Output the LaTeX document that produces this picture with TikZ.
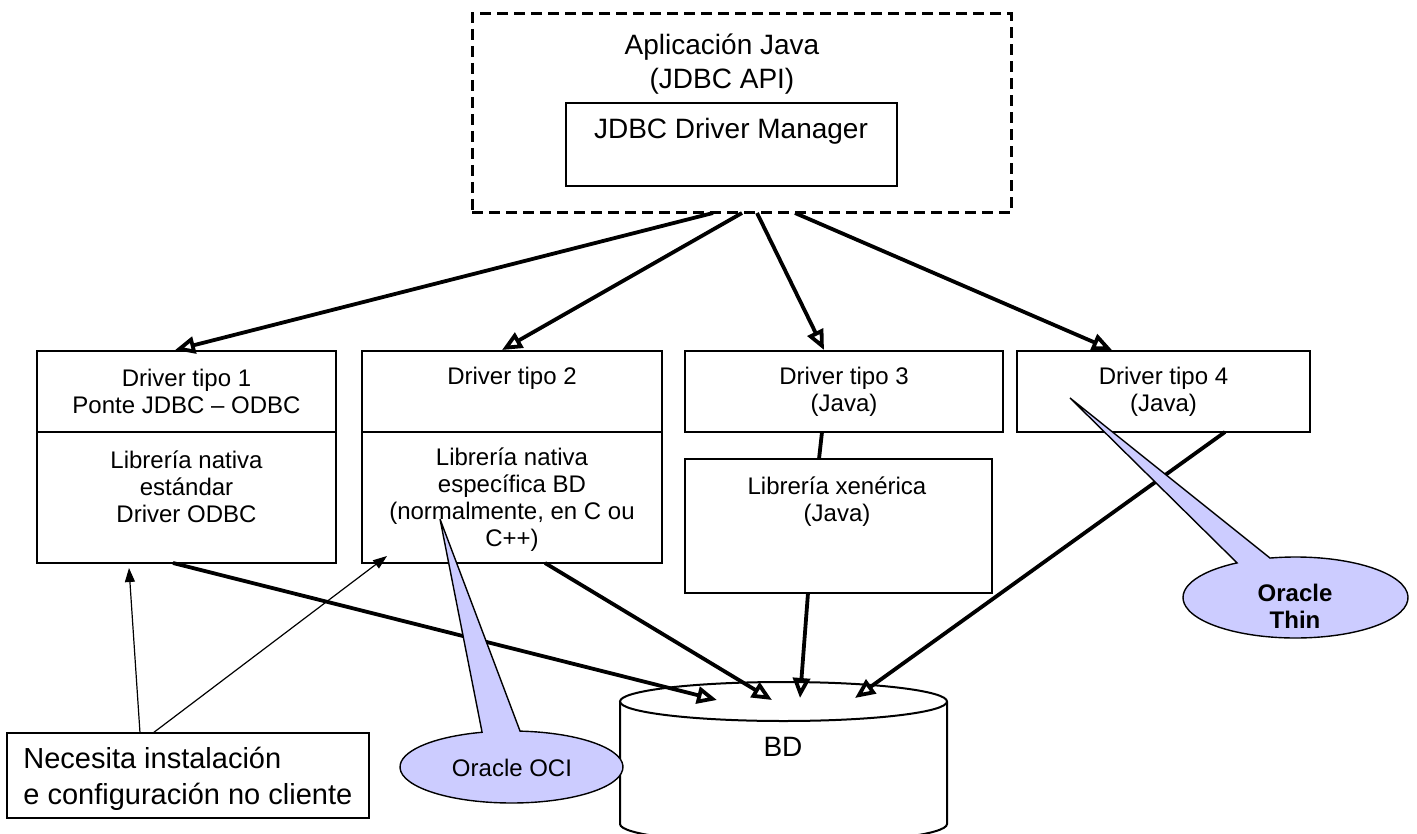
\documentclass[tikz,border=0pt]{standalone}
\usepackage{fontspec}
\setmainfont{Liberation Sans}
\usetikzlibrary{arrows.meta,fit}
\definecolor{calloutblue}{HTML}{CCCCFF}
\begin{document}
\begin{tikzpicture}[x=0.5pt,y=-0.5pt,
  box/.style={draw,line width=1pt,inner sep=0pt,outer sep=0pt},
  dashbox/.style={draw,line width=1.5pt,dash pattern=on 5.5pt off 3pt,inner sep=0pt,outer sep=0pt},
  txt/.style={align=center,inner sep=0pt,font=\fontsize{12}{13.5}\selectfont},
  bigtxt/.style={align=center,inner sep=0pt,font=\fontsize{14}{17}\selectfont},
  notetxt/.style={align=left,inner sep=0pt,font=\fontsize{14.5}{18}\selectfont},
  thickarrow/.style={line width=1.9pt,-{Triangle[open,length=10pt,width=8.5pt]}},
  thickline/.style={line width=1.9pt},
  thinarrow/.style={line width=0.6pt,-{Triangle[length=7pt,width=5pt]}},
  callout/.style={fill=calloutblue,draw,line width=0.7pt},
]
\useasboundingbox (0,0) rectangle (1417,834);

% top application box
\node[dashbox,fit={(472,14) (1011,213)}] (app) {};
\node[box,fit={(566,103) (897,186)}] (mgr) {};
\node[bigtxt] (apptxt) at (722,64) {Aplicación Java\\(JDBC API)};
\node[bigtxt] (mgrtxt) at (731,131) {JDBC Driver Manager};

% driver boxes
\node[box,fit={(37,351) (336,432)}] (d1a) {};
\node[box,fit={(37,432) (336,563)}] (d1b) {};
\node[box,fit={(362,351) (662,432)}] (d2a) {};
\node[box,fit={(362,432) (662,563)}] (d2b) {};
\node[box,fit={(685,351) (1003,432)}] (d3) {};
\node[box,fit={(685,459) (992,593)}] (xen) {};
\node[box,fit={(1017,351) (1310,432)}] (d4) {};

\node[txt] (t1a) at (186.5,391.5) {Driver tipo 1\\Ponte JDBC – ODBC};
\node[txt] (t1b) at (186.5,487) {Librería nativa\\estándar\\Driver ODBC};
\node[txt] (t2a) at (512,378) {Driver tipo 2};
\node[txt] (t2b) at (512,500) {Librería nativa\\específica BD\\(normalmente, en C ou\\C++)};
\node[txt] (t3a) at (844,391.5) {Driver tipo 3\\(Java)};
\node[txt] (txen) at (837,502) {Librería xenérica\\(Java)};
\node[txt] (t4a) at (1163.5,391.5) {Driver tipo 4\\(Java)};

% note box
\node[box,fit={(7,733) (369,818)}] (note) {};
\node[notetxt,anchor=west] (notetxt) at (23,779) {Necesita instalación\\e configuración no cliente};

% database cylinder
\coordinate (dbtop) at (783.5,701.5);
\coordinate (dbbot) at (783.5,824);
\draw[line width=1pt,fill=white] (620,701.5) -- (620,824)
  arc[start angle=180,end angle=360,x radius=81.75pt,y radius=9.75pt] -- (947,701.5);
\draw[line width=1pt] (dbtop) ellipse [x radius=81.75pt,y radius=9.75pt];
\node[bigtxt] (bd) at (783,747) {BD};

% connector coordinates
\coordinate (a1) at (713,213);
\coordinate (a2) at (742,213);
\coordinate (a3) at (757,213);
\coordinate (a4) at (795,213);
\coordinate (e1) at (175,350);
\coordinate (e2) at (502,350);
\coordinate (e3) at (824,350);
\coordinate (e4) at (1112,350);
\coordinate (s1) at (173,563);
\coordinate (s2) at (545,563);
\coordinate (s3) at (808,593);
\coordinate (s4) at (1225,432);
\coordinate (b1) at (717,700);
\coordinate (b2) at (772,700);
\coordinate (b3) at (800,698);
\coordinate (b4) at (855,698);
\coordinate (d3b) at (822,432);
\coordinate (xent) at (819,459);
\coordinate (n1) at (140,733);
\coordinate (n2) at (153,733);
\coordinate (m1) at (129,568);
\coordinate (m2) at (387,556);

\draw[thickarrow] (a1) -- (e1);
\draw[thickarrow] (a2) -- (e2);
\draw[thickarrow] (a3) -- (e3);
\draw[thickarrow] (a4) -- (e4);
\draw[thickline] (d3b) -- (xent);
\draw[thickarrow] (s1) -- (b1);
\draw[thickarrow] (s2) -- (b2);
\draw[thickarrow] (s3) -- (b3);
\draw[thickarrow] (s4) -- (b4);
\draw[thinarrow] (n1) -- (m1);
\draw[thinarrow] (n2) -- (m2);

% callouts
\coordinate (ocic) at (511.5,767);
\coordinate (ocitip) at (440,519);
\path[callout] ([shift={(85.6:55.75pt and 18pt)}]ocic)
  arc[start angle=85.6,end angle=-254.7,x radius=55.75pt,y radius=18pt]
  -- (ocitip) -- cycle;
\node[txt] (ocitxt) at (512,768) {Oracle OCI};

\coordinate (thinc) at (1295.5,597.5);
\coordinate (thintip) at (1070,398);
\path[callout] ([shift={(103.1:56.25pt and 20.25pt)}]thinc)
  arc[start angle=103.1,end angle=-238.7,x radius=56.25pt,y radius=20.25pt]
  -- (thintip) -- cycle;
\node[txt,font=\fontsize{12}{13.5}\selectfont\bfseries] (thintxt) at (1295,606) {Oracle\\Thin};
\end{tikzpicture}
\end{document}
